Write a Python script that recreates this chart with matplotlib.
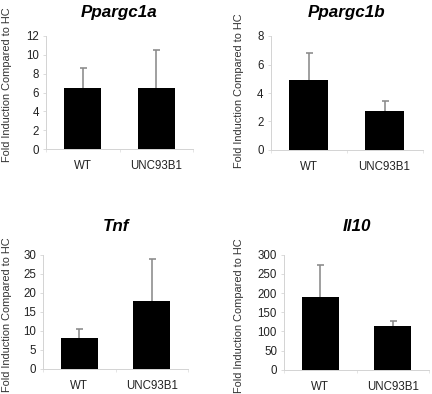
import matplotlib
matplotlib.use("Agg")
import matplotlib.pyplot as plt

plt.rcParams['font.family'] = ['Liberation Sans', 'DejaVu Sans']

groups = ['WT', 'UNC93B1']
genes = ['Ppargc1a', 'Ppargc1b', 'Tnf', 'Il10']

ppargc1a_mean = [6.5, 6.45]
ppargc1a_err = [2.05, 4.1]
ppargc1b_mean = [4.9, 2.72]
ppargc1b_err = [1.9, 0.75]
tnf_mean = [8.2, 17.7]
tnf_err = [2.3, 11.2]
il10_mean = [190, 113]
il10_err = [82, 15]

ymax = [12, 8, 30, 300]
ystep = [2, 2, 5, 50]

means = [ppargc1a_mean, ppargc1b_mean, tnf_mean, il10_mean]
errs = [ppargc1a_err, ppargc1b_err, tnf_err, il10_err]

W, H = 432, 394
fig = plt.figure(figsize=(W / 72, H / 72), dpi=72)

# axes boxes in pixels: left, right, top, bottom
boxes = [(46, 193, 36, 149), (270.5, 422.5, 36, 150),
         (43, 188, 254.7, 368.7), (284, 429, 254.7, 369.7)]
title_y = [12, 12, 226, 226]
# ylabel anchor (right edge of rotated text, centre height) in axes coords
label_pos = [(-0.228, 0.57), (-0.174, 0.52), (-0.214, 0.47), (-0.276, 0.47)]

axis_grey = '#d4d4d4'

for i in range(4):
    l, r, t, b = boxes[i]
    ax = fig.add_axes([l / W, 1 - b / H, (r - l) / W, (b - t) / H])
    x = range(len(groups))
    ax.bar(x, means[i], width=0.51, color='black', zorder=2)
    eb = ax.errorbar(x, means[i], yerr=[[0, 0], errs[i]], fmt='none',
                     ecolor='#8a8a8a', elinewidth=1.6, capsize=3.5,
                     capthick=1.6, zorder=3)
    eb[1][0].set_visible(False)
    eb[1][1].set_color('#333333')

    ax.set_xlim(-0.5, 1.5)
    ax.set_ylim(0, ymax[i])
    ax.set_yticks(range(0, ymax[i] + 1, ystep[i]))
    ax.set_xticks(list(x))
    ax.set_xticklabels(groups)
    ax.set_xticks([-0.5, 0.5, 1.5], minor=True)

    for s in ['top', 'right']:
        ax.spines[s].set_visible(False)
    for s in ['left', 'bottom']:
        ax.spines[s].set_color(axis_grey)
        ax.spines[s].set_linewidth(1)

    ax.tick_params(axis='y', direction='out', length=3, color=axis_grey,
                   labelsize=11.5, pad=4, labelcolor='#222222')
    ax.tick_params(axis='x', which='major', length=0, labelsize=11.5,
                   pad=11, labelcolor='#222222')
    ax.tick_params(axis='x', which='minor', direction='out', length=3,
                   color=axis_grey)

    ax.set_ylabel('Fold Induction Compared to HC', fontsize=11,
                  color='#333333')
    ax.yaxis.set_label_coords(*label_pos[i])

    fig.text((l + r) / 2 / W, 1 - title_y[i] / H, genes[i], ha='center',
             va='center', fontsize=17, fontweight='bold', fontstyle='italic')

fig.savefig('out.png', dpi=72)
